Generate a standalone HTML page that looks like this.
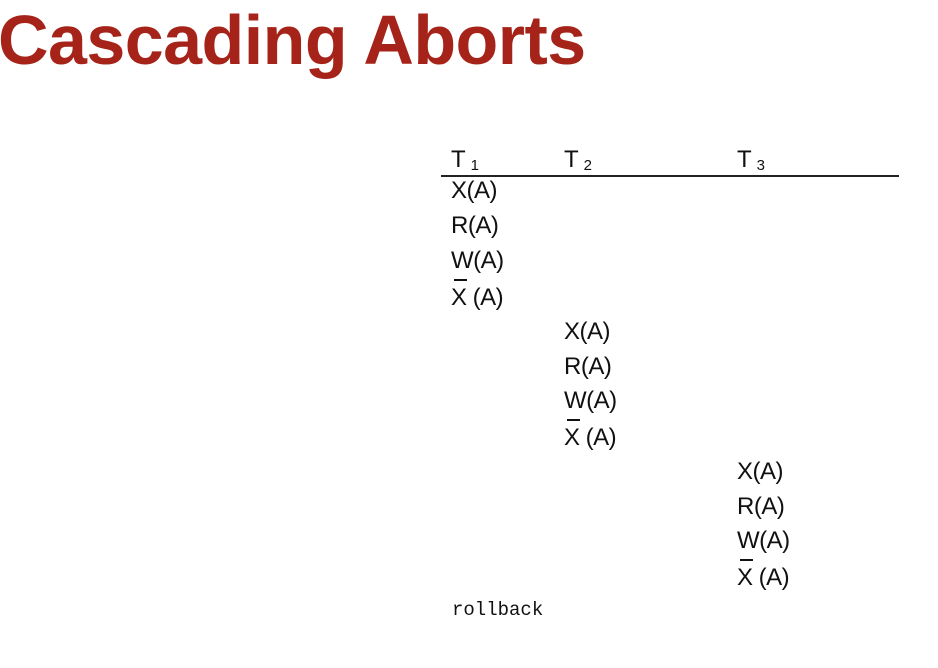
<!DOCTYPE html>
<html><head><style>
body{margin:0;width:938px;height:668px;background:#fff;position:relative;overflow:hidden;font-family:"Liberation Sans",sans-serif;}
.t{position:absolute;font-size:24px;color:#111;line-height:1;white-space:nowrap;letter-spacing:-0.5px}
.h{position:absolute;font-size:24px;color:#111;line-height:1}
.h sub{font-size:15px;vertical-align:-3px;margin-left:5px}
</style></head><body>
<div style="position:absolute;left:-2px;top:5px;font-size:70px;font-weight:bold;color:#a52318;line-height:1;letter-spacing:-0.55px">Cascading Aborts</div>
<div class="h" style="left:451px;top:148px">T<sub>1</sub></div>
<div class="h" style="left:564px;top:148px">T<sub>2</sub></div>
<div class="h" style="left:737px;top:148px">T<sub>3</sub></div>
<div style="position:absolute;left:441px;top:175px;width:458px;height:1.5px;background:#222"></div>

<div class="t" style="left:451px;top:179px">X(A)</div>
<div class="t" style="left:451px;top:214px">R(A)</div>
<div class="t" style="left:451px;top:249px">W(A)</div>
<div class="t" style="left:451px;top:286px"><span style="position:relative">X<span style="position:absolute;left:3px;top:-5px;width:13px;height:1.5px;background:#111"></span></span> (A)</div>

<div class="t" style="left:564px;top:320px">X(A)</div>
<div class="t" style="left:564px;top:355px">R(A)</div>
<div class="t" style="left:564px;top:389px">W(A)</div>
<div class="t" style="left:564px;top:426px"><span style="position:relative">X<span style="position:absolute;left:3px;top:-5px;width:13px;height:1.5px;background:#111"></span></span> (A)</div>

<div class="t" style="left:737px;top:460px">X(A)</div>
<div class="t" style="left:737px;top:495px">R(A)</div>
<div class="t" style="left:737px;top:529px">W(A)</div>
<div class="t" style="left:737px;top:566px"><span style="position:relative">X<span style="position:absolute;left:3px;top:-5px;width:13px;height:1.5px;background:#111"></span></span> (A)</div>

<div style="position:absolute;left:452px;top:601px;font-family:'Liberation Mono',monospace;font-size:19px;color:#111;line-height:1">rollback</div>
</body></html>
